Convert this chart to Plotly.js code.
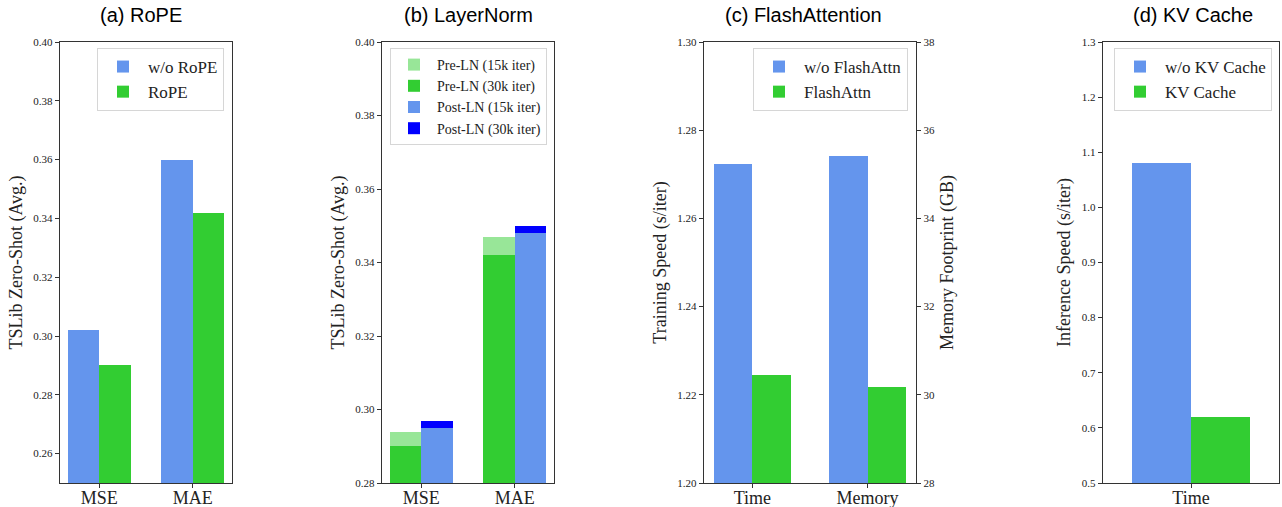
<!DOCTYPE html>
<html>
<head>
<meta charset="utf-8">
<script src="https://cdn.plot.ly/plotly-3.0.1.min.js"></script>
<style>html,body{margin:0;padding:0;background:#fff;}#chart{width:1282px;height:507px;}</style>
</head>
<body>
<div id="chart"></div>
<script>
// ---- data ----
const ropeCats = ['MSE', 'MAE'];
const ropeWithout = [0.302, 0.360];
const ropeWith = [0.290, 0.342];

const lnCats = ['MSE', 'MAE'];
const preLN15k = [0.294, 0.347];
const preLN30k = [0.290, 0.342];
const postLN15k = [0.295, 0.348];
const postLN30k = [0.297, 0.350];

const faCats = ['Time', 'Memory'];
const faTimeWithout = [1.2723];
const faTimeWith = [1.2245];
const faMemWithout = [35.41];
const faMemWith = [30.18];

const kvCats = ['Time'];
const kvWithout = [1.08];
const kvWith = [0.62];

const panelTitles = ['(a) RoPE', '(b) LayerNorm', '(c) FlashAttention', '(d) KV Cache'];

// ---- styles ----
const BLUE = '#6495ED', GREEN = '#32CD32', LIGHTGREEN = '#98E698', DARKBLUE = '#0000FF';
const W = 0.335;
const SERIF = 'Liberation Serif, Times New Roman, serif';
const SANS = 'Liberation Sans, Arial, sans-serif';
const W_PX = 1282, H_PX = 507;
const px = v => v / W_PX, py = v => 1 - v / H_PX;

function bar(x, y, name, color, xa, ya, offset, legend, showlegend, rank) {
  return {type: 'bar', x: x, y: y, name: name, width: W, offset: offset,
    marker: {color: color, line: {width: 0}}, xaxis: xa, yaxis: ya,
    legend: legend, showlegend: showlegend, legendrank: rank, hoverinfo: 'y'};
}

const traces = [
  bar(ropeCats, ropeWithout, 'w/o RoPE', BLUE, 'x', 'y', -W, 'legend', true, 1),
  bar(ropeCats, ropeWith, 'RoPE', GREEN, 'x', 'y', 0, 'legend', true, 2),

  bar(lnCats, preLN15k, 'Pre-LN (15k iter)', LIGHTGREEN, 'x2', 'y2', -W, 'legend2', true, 1),
  bar(lnCats, preLN30k, 'Pre-LN (30k iter)', GREEN, 'x2', 'y2', -W, 'legend2', true, 2),
  bar(lnCats, postLN30k, 'Post-LN (30k iter)', DARKBLUE, 'x2', 'y2', 0, 'legend2', true, 4),
  bar(lnCats, postLN15k, 'Post-LN (15k iter)', BLUE, 'x2', 'y2', 0, 'legend2', true, 3),

  bar([faCats[0]], faTimeWithout, 'w/o FlashAttn', BLUE, 'x3', 'y3', -W, 'legend3', true, 1),
  bar([faCats[0]], faTimeWith, 'FlashAttn', GREEN, 'x3', 'y3', 0, 'legend3', true, 2),
  bar([faCats[1]], faMemWithout, 'w/o FlashAttn', BLUE, 'x3', 'y5', -W, 'legend3', false, 3),
  bar([faCats[1]], faMemWith, 'FlashAttn', GREEN, 'x3', 'y5', 0, 'legend3', false, 4),

  bar(kvCats, kvWithout, 'w/o KV Cache', BLUE, 'x4', 'y4', -W, 'legend4', true, 1),
  bar(kvCats, kvWith, 'KV Cache', GREEN, 'x4', 'y4', 0, 'legend4', true, 2)
];

const LINE = '#333333';
function xax(domain, cats, range) {
  return {domain: domain, type: 'category', categoryorder: 'array', categoryarray: cats,
    range: range, showline: true, linecolor: LINE, linewidth: 1.2, mirror: true,
    ticks: 'outside', ticklen: 4, tickcolor: LINE, showgrid: false, zeroline: false,
    ticklabelstandoff: -6,
    tickfont: {family: SERIF, size: 18, color: '#222'}, fixedrange: true};
}
function yax(range, dtick, fmt, title, anchor, extra) {
  const a = {domain: [1 - 483 / H_PX, 1 - 42 / H_PX], range: range, dtick: dtick, tick0: 0,
    tickformat: fmt, anchor: anchor, showline: true, linecolor: LINE, linewidth: 1.2,
    mirror: true, ticks: 'outside', ticklen: 4, tickcolor: LINE, showgrid: false,
    zeroline: false, tickfont: {family: SERIF, size: 11, color: '#222'},
    title: {text: title, font: {family: SERIF, size: 18, color: '#222'}, standoff: 6},
    fixedrange: true};
  return Object.assign(a, extra || {});
}
function leg(xr, ytop, fsize, iw) {
  return {x: px(xr), y: py(ytop), xanchor: 'right', yanchor: 'top',
    bgcolor: 'rgba(255,255,255,0.85)', bordercolor: '#d6d6d6', borderwidth: 1,
    font: {family: SERIF, size: fsize, color: '#222'}, tracegroupgap: 0,
    traceorder: 'normal', itemwidth: iw};
}

const titleCenters = [140.7, 468, 803, 1192.5];
const layout = {
  width: W_PX, height: H_PX, margin: {l: 0, r: 0, t: 0, b: 0},
  paper_bgcolor: '#fff', plot_bgcolor: '#fff', barmode: 'overlay', bargap: 0,
  xaxis: xax([px(60), px(232)], ropeCats, [-0.42, 1.42]),
  yaxis: yax([0.25, 0.40], 0.02, '.2f', 'TSLib Zero-Shot (Avg.)', 'x'),
  xaxis2: xax([px(382), px(554)], lnCats, [-0.42, 1.42]),
  yaxis2: yax([0.28, 0.40], 0.02, '.2f', 'TSLib Zero-Shot (Avg.)', 'x2'),
  xaxis3: xax([px(704), px(916)], faCats, [-0.42, 1.42]),
  yaxis3: yax([1.20, 1.30], 0.02, '.2f', 'Training Speed (s/iter)', 'x3', {mirror: false}),
  yaxis5: yax([28, 38], 2, 'd', 'Memory Footprint (GB)', 'x3', {overlaying: 'y3', side: 'right', mirror: false}),
  xaxis4: xax([px(1103), px(1279)], kvCats, [-0.5, 0.5]),
  yaxis4: yax([0.5, 1.3], 0.1, '.1f', 'Inference Speed (s/iter)', 'x4'),
  legend: leg(224, 48, 17, 40),
  legend2: leg(547, 48, 14, 36),
  legend3: leg(908, 48, 17, 40),
  legend4: leg(1272, 48, 17, 40),
  annotations: panelTitles.map((t, i) => ({
    text: t, x: px(titleCenters[i]), y: py(15), xref: 'paper', yref: 'paper',
    xanchor: 'center', yanchor: 'middle', showarrow: false,
    font: {family: SANS, size: 20, color: '#000'}
  }))
};

Plotly.newPlot('chart', traces, layout, {staticPlot: true, displayModeBar: false});
</script>
</body>
</html>
